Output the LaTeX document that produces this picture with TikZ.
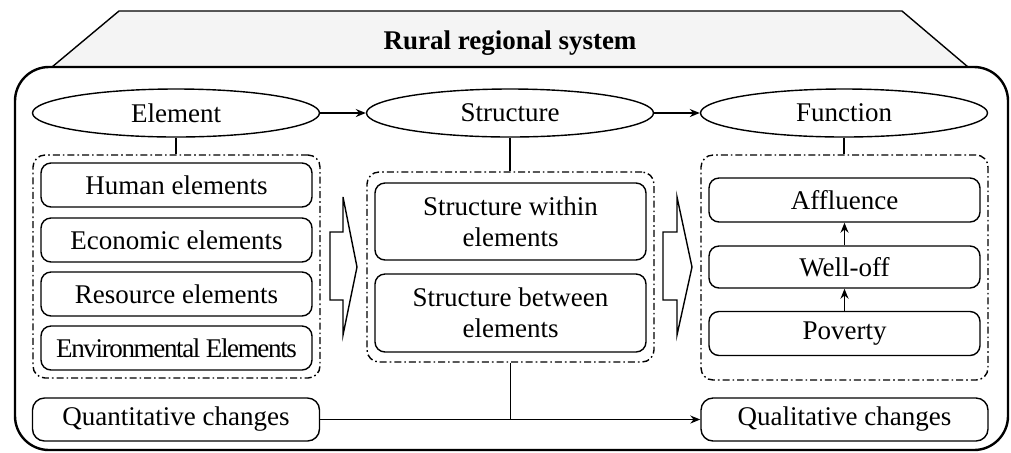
\documentclass[tikz,border=0pt]{standalone}
\usepackage{fontspec}
\setmainfont{Liberation Serif}
\usepackage{tikz}
\usetikzlibrary{positioning, arrows.meta, shapes.geometric}

\tikzset{
  stage/.style={ellipse, draw, line width=0.7pt, inner sep=0pt,
    minimum width=143.5pt, minimum height=24pt},
  itembox/.style={draw, line width=0.7pt, rounded corners=5pt, inner sep=0pt,
    minimum width=135.5pt, minimum height=22pt, align=center},
  groupbox/.style={draw, line width=0.7pt, rounded corners=6pt, inner sep=0pt,
    minimum width=143.5pt,
    dash pattern=on 3.5pt off 1.5pt on 0.8pt off 1.5pt},
  changebox/.style={draw, line width=0.7pt, rounded corners=6pt, inner sep=0pt,
    minimum width=143.5pt, minimum height=21.5pt},
  link/.style={line width=0.7pt},
  flow/.style={line width=0.7pt, -{Stealth[length=5pt,width=4pt]}},
  bigarrow/.style={draw, line width=0.7pt, fill=white, line join=miter}
}

\begin{document}
\begin{tikzpicture}[x=0.5pt, y=-0.5pt, font=\fontsize{13.5}{15.5}\selectfont]
\useasboundingbox (0,0) rectangle (1011,452);

% Header tab with the title
\draw[line width=0.7pt, fill=gray!9] (52,67) -- (119,11) -- (902,11) -- (968,67) -- cycle;
\node[font=\fontsize{13.5}{15.5}\selectfont\bfseries] (title) at (510,43) {Rural regional system};

% Outer frame
\draw[line width=1.2pt, rounded corners=17pt] (15,67) rectangle (1008,450);

% The three stages
\node[stage] (elem) at (176,113) {Element};
\node[stage] (strc) at (510,113) {Structure};
\node[stage] (func) at (844,113) {Function};
\draw[flow] (elem) -- (strc);
\draw[flow] (strc) -- (func);

% Element group
\node[groupbox, minimum height=111.5pt] (lgrp) at (176.5,266.5) {};
\node[itembox] (human) at (176.5,185) {Human elements};
\node[itembox] (econ) at (176.5,240) {Economic elements};
\node[itembox] (res) at (176.5,294) {Resource elements};
\node[itembox] (env) at (176.5,348) {\addfontfeature{LetterSpace=-5}Environmental Elements};
\draw[link] (elem.south) -- (elem.south |- lgrp.north);

% Structure group
\node[groupbox, minimum height=95pt] (mgrp) at (510.5,267) {};
\node[itembox, minimum height=38.5pt] (within) at (510.5,221.5) {Structure within\\elements};
\node[itembox, minimum height=39pt] (between) at (510.5,313) {Structure between\\elements};
\draw[link] (strc.south) -- (strc.south |- mgrp.north);

% Function group
\node[groupbox, minimum height=112.5pt] (rgrp) at (844.5,267.5) {};
\node[itembox] (aff) at (844.5,200) {Affluence};
\node[itembox, minimum height=21pt] (well) at (844.5,267) {Well-off};
\node[itembox] (pov) at (844.5,333.5) {Poverty};
\draw[link] (func.south) -- (func.south |- rgrp.north);
\draw[flow] (pov) -- (well);
\draw[flow] (well) -- (aff);

% Hollow block arrows between the groups
\draw[bigarrow] (330,232) -- (343,232) -- (343,197) -- (357,267) -- (343,335)
  -- (343,300) -- (330,300) -- cycle;
\draw[bigarrow] (663,232) -- (677,232) -- (677,197) -- (692,267) -- (677,335)
  -- (677,300) -- (663,300) -- cycle;

% Quantitative to qualitative changes
\node[changebox] (quant) at (176,419.5) {Quantitative changes};
\node[changebox] (qual) at (844.5,419.5) {Qualitative changes};
\draw[flow] (quant) -- (qual);
\draw[link] (mgrp.south) -- (mgrp.south |- quant.east);
\end{tikzpicture}
\end{document}
